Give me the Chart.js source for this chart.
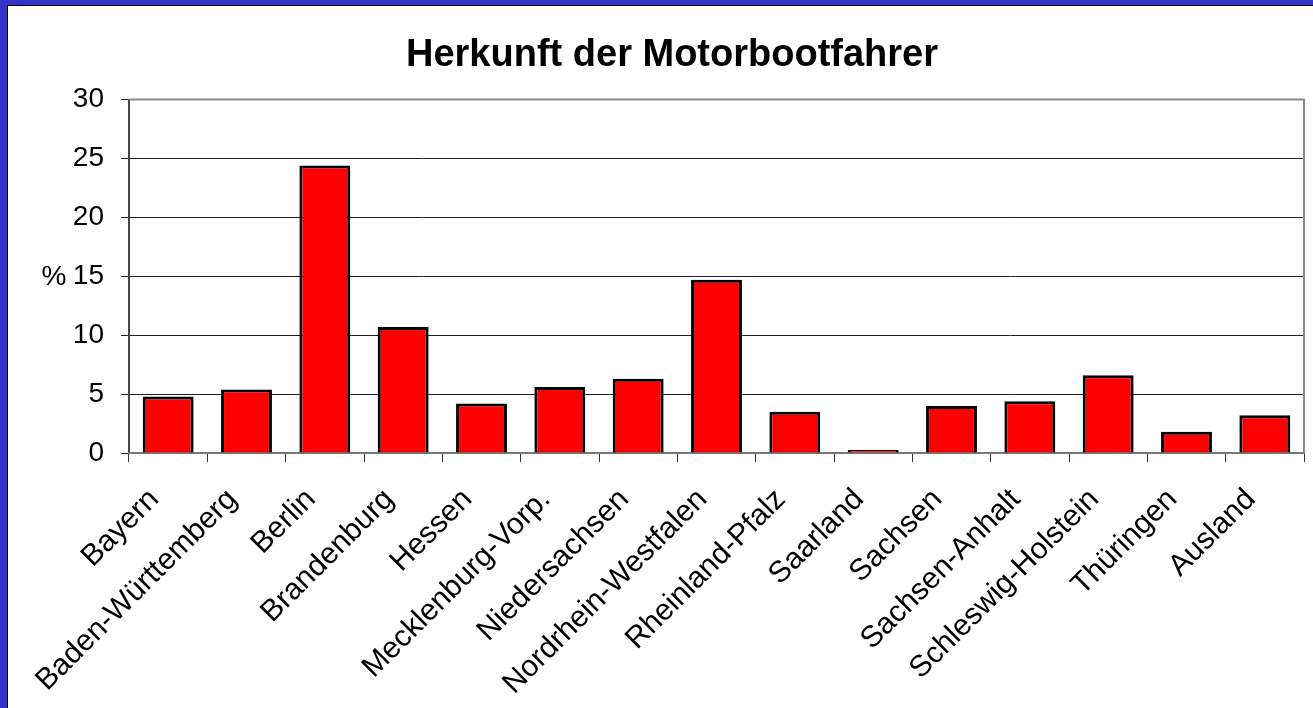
<!DOCTYPE html>
<html>
<head>
<meta charset="utf-8">
<script src="https://cdn.jsdelivr.net/npm/chart.js@4.4.0/dist/chart.umd.min.js"></script>
<style>
  html, body { margin: 0; padding: 0; background: #3333cc; width: 1313px; height: 708px; overflow: hidden; }
  #wrap { position: absolute; left: 7px; top: 5px; width: 1305px; height: 702px; background: #fff;
          border-left: 1px solid #000; border-top: 1px solid #000; }
</style>
</head>
<body>
<div id="wrap"><canvas id="myChart" width="1305" height="702"></canvas></div>
<script>
/* Herkunft der Motorbootfahrer, % per Bundesland */
const laender = ['Bayern', 'Baden-Württemberg', 'Berlin', 'Brandenburg', 'Hessen',
  'Mecklenburg-Vorp.', 'Niedersachsen', 'Nordrhein-Westfalen', 'Rheinland-Pfalz',
  'Saarland', 'Sachsen', 'Sachsen-Anhalt', 'Schleswig-Holstein', 'Thüringen', 'Ausland'];
const anteil = [4.8, 5.4, 24.4, 10.7, 4.2, 5.6, 6.3, 14.7, 3.5, 0.25, 4.0, 4.4, 6.6, 1.8, 3.2];
const yTicks = [0, 5, 10, 15, 20, 25, 30];
const yLabel = '%';

const FONT = '"Liberation Sans", Arial, sans-serif';
Chart.defaults.font.family = FONT;
Chart.defaults.color = '#000';

// "%" sits horizontally left of the 15 tick, plus grey frame top/right
const framePlugin = {
  id: 'frame',
  afterDraw(chart) {
    const ctx = chart.ctx, a = chart.chartArea, y = chart.scales.y;
    ctx.save();
    ctx.strokeStyle = '#8a8a8a';
    ctx.lineWidth = 2;
    ctx.beginPath();
    ctx.moveTo(a.left, a.top);
    ctx.lineTo(a.right, a.top);
    ctx.lineTo(a.right, a.bottom);
    ctx.stroke();
    ctx.font = '28px ' + FONT;
    ctx.fillStyle = '#000';
    ctx.textAlign = 'center';
    ctx.textBaseline = 'middle';
    ctx.fillText(yLabel, 46, y.getPixelForValue(15) + 1);
    ctx.restore();
  }
};

const myChart = new Chart(document.getElementById('myChart'), {
  type: 'bar',
  plugins: [framePlugin],
  data: {
    labels: laender,
    datasets: [{
      data: anteil,
      backgroundColor: '#ff0000',
      borderColor: '#000',
      borderWidth: 3,
      categoryPercentage: 1,
      barPercentage: 0.65
    }]
  },
  options: {
    responsive: false,
    animation: false,
    layout: { padding: { left: 32, right: 9, top: 0, bottom: 0 } },
    plugins: {
      legend: false,
      tooltip: { enabled: false },
      title: {
        display: true,
        text: 'Herkunft der Motorbootfahrer',
        font: { size: 38, weight: 'bold' },
        color: '#000',
        padding: { top: 27, bottom: 21 }
      }
    },
    scales: {
      y: {
        min: 0,
        max: 30,
        afterBuildTicks: s => { s.ticks = yTicks.map(v => ({ value: v })); },
        afterFit: s => { s.width = 89; },
        ticks: { font: { size: 28 }, padding: 17, color: '#000' },
        grid: {
          color: c => c.tick && c.tick.value === 30 ? '#8a8a8a' : '#222',
          tickColor: '#222',
          tickLength: 8,
          lineWidth: 1
        },
        border: { color: '#444', width: 2 }
      },
      x: {
        afterFit: s => { s.height = 255; },
        ticks: {
          font: { size: 30 },
          autoSkip: false,
          minRotation: 45,
          maxRotation: 45,
          padding: 20,
          labelOffset: -14,
          color: '#000'
        },
        grid: {
          offset: true,
          drawOnChartArea: false,
          color: '#333',
          tickLength: 9
        },
        border: { color: '#777', width: 2 }
      }
    }
  }
});
</script>
</body>
</html>
